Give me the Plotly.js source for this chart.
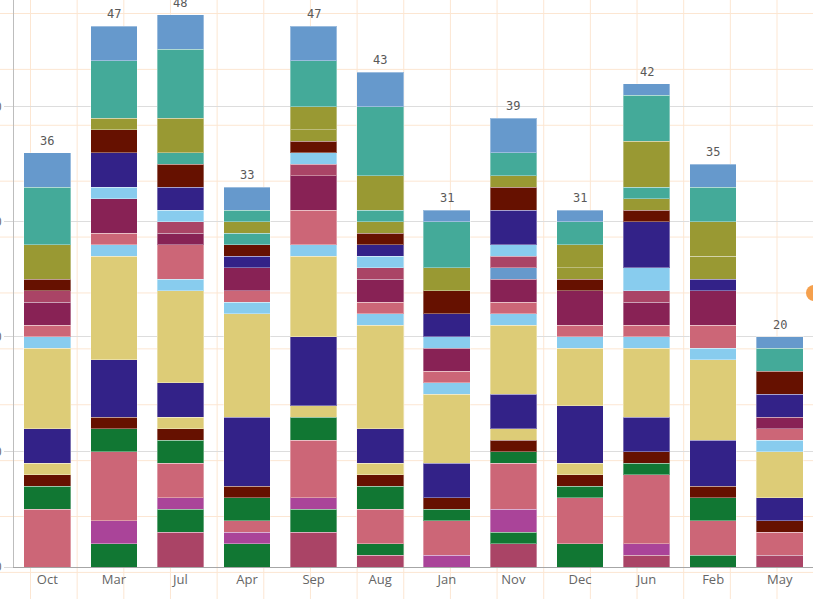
<!DOCTYPE html>
<html>
<head>
<meta charset="utf-8">
<script src="https://cdn.plot.ly/plotly-3.0.1.min.js"></script>
<style>
  html, body { margin: 0; padding: 0; }
  body {
    width: 813px; height: 599px; overflow: hidden; position: relative;
    background-color: #ffffff;
    background-image:
      linear-gradient(to right, #fce6d2 1px, transparent 1px),
      linear-gradient(to bottom, #fce6d2 1px, transparent 1px);
    background-size: 46.67px 55.9px;
    background-position: 30px 13px;
  }
  #chart { position: absolute; left: -40px; top: 0; width: 853px; height: 599px; }
  #handle { position: absolute; left: 806px; top: 285px; width: 16px; height: 16px;
    border-radius: 50%; background: #f5a04d; }
</style>
</head>
<body>
<div id="chart"></div>
<div id="handle"></div>
<script>
// Categories (x axis, in displayed order)
const categories = ["Oct","Mar","Jul","Apr","Sep","Aug","Jan","Nov","Dec","Jun","Feb","May"];

// Stack segments, bottom to top; values per category
const s01 = [0,0,3,0,3,1,0,2,0,1,0,1];
const s02 = [0,2,2,2,2,1,0,1,2,0,1,0];
const s03 = [0,2,1,1,1,0,1,2,0,1,0,0];
const s04 = [5,6,3,1,5,3,3,4,4,6,3,2];
const s05 = [2,2,2,2,2,2,1,1,1,1,2,0];
const s06 = [1,1,1,1,0,1,1,1,1,1,1,1];
const s07 = [1,0,1,0,1,1,0,1,1,0,0,0];
const s08 = [3,5,3,6,6,3,3,3,5,3,4,2];
const s09 = [7,9,8,9,7,9,6,6,5,6,7,4];
const s10 = [1,1,1,1,1,1,1,1,1,1,1,1];
const s11 = [1,1,3,1,3,1,1,1,1,1,2,1];
const s12 = [2,3,1,2,3,2,2,2,3,2,3,1];
const s13 = [0,0,0,0,0,0,0,1,0,0,0,0];
const s14 = [1,0,1,0,1,1,0,1,0,1,0,0];
const s15 = [0,1,1,0,1,1,1,1,0,2,0,0];
const s16 = [0,3,2,1,0,1,2,3,0,4,1,2];
const s17 = [1,2,2,1,1,1,2,2,1,1,0,2];
const s18 = [0,0,0,0,1,1,0,0,1,1,2,0];
const s19 = [0,0,1,1,0,1,0,0,0,1,0,0];
const s20 = [3,1,3,1,2,3,2,1,2,4,3,0];
const s21 = [5,5,6,1,4,6,4,2,2,4,3,2];
const s22 = [3,3,3,2,3,3,1,3,1,1,2,1];

const seriesValues = [s01,s02,s03,s04,s05,s06,s07,s08,s09,s10,s11,s12,s13,s14,s15,s16,s17,s18,s19,s20,s21,s22];
const seriesColors = ["#AA4466","#117733","#AA4499","#CC6677","#117733","#661100","#DDCC77","#332288",
                      "#DDCC77","#88CCEE","#CC6677","#882255","#6699CC","#AA4466","#88CCEE","#332288",
                      "#661100","#999933","#44AA99","#999933","#44AA99","#6699CC"];

const traces = seriesValues.map((vals, i) => ({
  type: "bar",
  name: "Series " + (i + 1),
  x: categories,
  y: vals.map(v => v === 0 ? null : v),
  marker: { color: seriesColors[i], line: { color: "rgba(255,255,255,0.35)", width: 1 } },
  hoverinfo: "skip",
  showlegend: false
}));

const totals = categories.map((c, j) => seriesValues.reduce((a, s) => a + s[j], 0));
const annotations = categories.map((c, j) => ({
  x: c, y: totals[j], xref: "x", yref: "y",
  text: String(totals[j]), showarrow: false,
  yanchor: "bottom", yshift: 3,
  font: { family: "DejaVu Sans Mono", size: 12, color: "#595959" }
}));

const layout = {
  width: 853, height: 599,
  margin: { l: 54, r: 0, t: 0, b: 32, pad: 0 },
  barmode: "stack",
  bargap: 0.3,
  paper_bgcolor: "rgba(0,0,0,0)",
  plot_bgcolor: "rgba(0,0,0,0)",
  xaxis: {
    type: "category",
    showline: true, linecolor: "#a6a6a6", linewidth: 1,
    ticks: "", showgrid: false,
    tickfont: { family: "Open Sans", size: 13, color: "#666666" }
  },
  yaxis: {
    range: [0, 49.26], dtick: 10,
    showline: true, linecolor: "#bdbdbd", linewidth: 1,
    ticks: "outside", ticklen: 9, tickcolor: "#d9d9d9",
    gridcolor: "#dddddd", zeroline: false,
    tickfont: { family: "Open Sans", size: 12, color: "#666666" }
  },
  annotations: annotations,
  showlegend: false
};

Plotly.newPlot("chart", traces, layout, { displayModeBar: false, staticPlot: true });
</script>
</body>
</html>
